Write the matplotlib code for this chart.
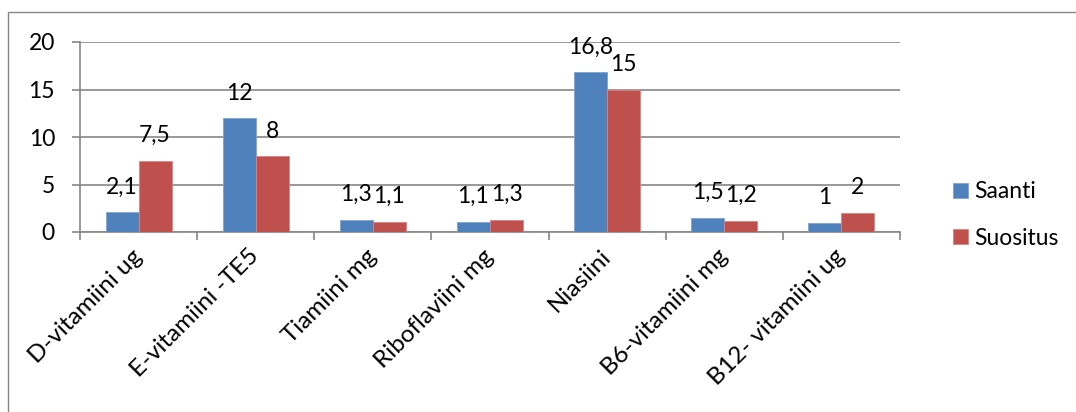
import matplotlib
matplotlib.use("Agg")
import matplotlib.pyplot as plt
from matplotlib.patches import Rectangle
import numpy as np

categories = ["D-vitamiini ug", "E-vitamiini -TE5", "Tiamiini mg", "Riboflaviini mg",
              "Niasiini", "B6-vitamiini mg", "B12- vitamiini ug"]
saanti = [2.1, 12, 1.3, 1.1, 16.8, 1.5, 1]
suositus = [7.5, 8, 1.1, 1.3, 15, 1.2, 2]
series_names = ["Saanti", "Suositus"]
y_ticks = [0, 5, 10, 15, 20]

BLUE = "#4F81BD"
RED = "#C0504D"
GRID = "#868686"
FS = 16.5

plt.rcParams["font.family"] = ["Lato", "DejaVu Sans"]

W, H = 1076, 412
fig = plt.figure(figsize=(W / 100, H / 100), dpi=100)

# chart-area frame (runs off the right and bottom edges)
fig.patches.append(Rectangle((8 / W, -0.1), 1.2, 1 - 12 / H + 0.1,
                             transform=fig.transFigure, fill=False,
                             edgecolor=GRID, linewidth=1.0))

ax = fig.add_axes([80 / W, 1 - 232 / H, 820 / W, 190 / H])

x = np.arange(len(categories))
bw = 0.282
b1 = ax.bar(x - bw / 2, saanti, bw, color=BLUE, edgecolor="#7FA3D1", linewidth=0.6,
            label=series_names[0], zorder=3)
b2 = ax.bar(x + bw / 2, suositus, bw, color=RED, edgecolor="#D98583", linewidth=0.6,
            label=series_names[1], zorder=3)


def fmt(v):
    return ("%g" % v).replace(".", ",")


for bars, vals in ((b1, saanti), (b2, suositus)):
    for rect, v in zip(bars, vals):
        ax.annotate(fmt(v), (rect.get_x() + rect.get_width() / 2, v),
                    xytext=(0, 18), textcoords="offset points",
                    ha="center", va="center", fontsize=FS, color="black", zorder=4)

ax.set_xlim(-0.5, len(categories) - 0.5)
ax.set_ylim(0, 20)
ax.set_yticks(y_ticks)
ax.set_yticklabels([str(t) for t in y_ticks], fontsize=FS)
ax.yaxis.grid(True, color=GRID, linewidth=1.2, zorder=0)
ax.set_axisbelow(True)

ax.set_xticks(np.arange(len(categories) + 1) - 0.5)
ax.set_xticklabels([])
ax.set_xticks(x, minor=True)
ax.set_xticklabels(categories, minor=True, rotation=45, ha="right", va="center",
                   rotation_mode="anchor", fontsize=17.5)
ax.tick_params(axis="x", which="minor", length=0, pad=15)
ax.tick_params(axis="x", which="major", length=6, width=1.2, color=GRID, direction="out")
ax.tick_params(axis="y", length=6, width=1.2, color=GRID, direction="out", pad=12)

for side in ("top", "right"):
    ax.spines[side].set_visible(False)
for side in ("left", "bottom"):
    ax.spines[side].set_color(GRID)
    ax.spines[side].set_linewidth(1.2)

leg = ax.legend(loc="center left", bbox_to_anchor=(932 / W, 1 - 215 / H),
                bbox_transform=fig.transFigure, frameon=False, fontsize=16.5,
                handlelength=0.66, handleheight=0.66, handletextpad=0.3,
                labelspacing=1.1)

fig.savefig("out.png", dpi=100, facecolor="white")
